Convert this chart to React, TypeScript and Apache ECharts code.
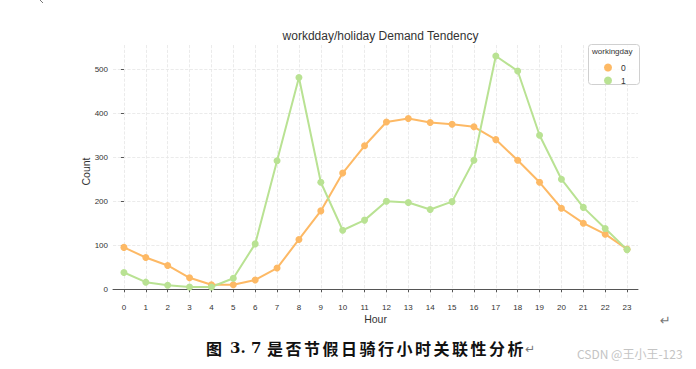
import React, { useEffect, useRef } from "react";
import * as echarts from "echarts";

const hours = [0,1,2,3,4,5,6,7,8,9,10,11,12,13,14,15,16,17,18,19,20,21,22,23];
const holidayCounts = [95,72,54,26,10,10,21,48,113,178,264,326,380,388,379,375,369,340,293,243,184,150,125,91];
const workdayCounts = [38,16,9,5,5,25,103,292,481,243,134,157,200,197,181,199,293,530,496,350,250,186,138,90];
const yTicks = [0,100,200,300,400,500];
const seriesNames = ["0", "1"];
const colors = ["#fdb965", "#b9e293"];
const captionHead = "图";
const captionNum = "3. 7";
const captionBody = "是否节假日骑行小时关联性分析";

const FONT = "'Liberation Sans', Arial, sans-serif";
const CJK = "'Noto Sans CJK SC', sans-serif";

export default function App() {
  const ref = useRef<HTMLDivElement>(null);
  useEffect(() => {
    if (!ref.current) return;
    const chart = echarts.init(ref.current, undefined, { renderer: "svg" });
    const mk = (vals: number[]) => hours.map((h, i) => [h, vals[i]]);
    const captionStyle = { fontSize: 16, fontWeight: "bold", fill: "#111", fontFamily: CJK };
    const step = 18.5;
    const bodyChars = Array.from(captionBody).map((ch, i) => ({
      type: "text",
      left: 267 + i * step,
      top: 340,
      style: { text: ch, ...captionStyle },
    }));
    chart.setOption({
      animation: false,
      backgroundColor: "#ffffff",
      textStyle: { fontFamily: FONT },
      title: {
        text: "workdday/holiday Demand Tendency",
        left: 375.5,
        textAlign: "center",
        top: 25,
        textStyle: { fontSize: 12, fontWeight: "normal", color: "#333", fontFamily: FONT },
      },
      grid: { left: 113, right: 58, top: 45, bottom: 71, containLabel: false },
      xAxis: {
        type: "value",
        min: -0.5,
        max: 23.5,
        name: "Hour",
        nameLocation: "middle",
        nameGap: 15,
        nameMoveOverlap: false,
        nameTextStyle: { fontSize: 10.5, color: "#333", fontFamily: FONT },
        axisLine: { show: true, lineStyle: { color: "#555", width: 1 } },
        axisTick: { show: true, length: 3, lineStyle: { color: "#555" }, customValues: hours },
        axisLabel: { fontSize: 8, color: "#333", margin: 5, customValues: hours, fontFamily: FONT },
        splitLine: { show: true, lineStyle: { color: "#e6e6e6", type: "dashed", width: 0.8 } },
      },
      yAxis: {
        type: "value",
        min: -20,
        max: 555,
        name: "Count",
        nameLocation: "middle",
        nameGap: 22,
        nameMoveOverlap: false,
        nameRotate: 90,
        nameTextStyle: { fontSize: 10.5, color: "#333", fontFamily: FONT },
        axisLine: { show: false },
        axisTick: { show: true, length: 3, lineStyle: { color: "#555" }, customValues: yTicks },
        axisLabel: { fontSize: 8, color: "#333", margin: 5, customValues: yTicks, fontFamily: FONT },
        splitLine: { show: true, lineStyle: { color: "#e6e6e6", type: "dashed", width: 0.8 } },
      },
      legend: {
        orient: "vertical",
        left: 599,
        top: 58,
        z: 10,
        itemWidth: 8,
        itemHeight: 8,
        itemGap: 4,
        icon: "circle",
        data: seriesNames,
        textStyle: { fontSize: 8.5, color: "#333", padding: [0, 0, 0, 4], fontFamily: FONT },
      },
      graphic: [
        {
          type: "rect",
          left: 588,
          top: 44,
          shape: { width: 51, height: 40, r: 3 },
          style: { fill: "rgba(255,255,255,0.85)", stroke: "#d0d0d0", lineWidth: 1 },
          z: 2,
        },
        {
          type: "text",
          left: 592,
          top: 47.5,
          style: { text: "workingday", fontSize: 8, fill: "#333", fontFamily: FONT },
          z: 6,
        },
        {
          type: "text",
          left: 206,
          top: 340,
          style: { text: captionHead, ...captionStyle },
        },
        {
          type: "text",
          left: 230,
          top: 340,
          style: { text: captionNum, ...captionStyle, fontFamily: "'DejaVu Serif', serif", fontSize: 15 },
        },
        ...bodyChars,
        {
          type: "text",
          left: 267 + captionBody.length * step - 1,
          top: 343,
          style: { text: "↵", fontSize: 12, fill: "#777", fontFamily: "'DejaVu Sans', sans-serif" },
        },
        {
          type: "text",
          left: 577,
          top: 347,
          style: { text: "CSDN @王小王-123", fontSize: 12, fill: "#c4c4c4", fontFamily: CJK },
        },
        {
          type: "text",
          left: 660,
          top: 314,
          style: { text: "↵", fontSize: 13, fill: "#777", fontFamily: "'DejaVu Sans', sans-serif" },
        },
        {
          type: "line",
          shape: { x1: 40, y1: 0, x2: 43, y2: 3 },
          style: { stroke: "#777", lineWidth: 1 },
        },
      ],
      series: seriesNames.map((name, i) => ({
        name,
        type: "line",
        data: mk(i === 0 ? holidayCounts : workdayCounts),
        symbol: "circle",
        symbolSize: 7,
        itemStyle: { color: colors[i] },
        lineStyle: { color: colors[i], width: 2 },
        z: 3,
      })),
    });
    return () => chart.dispose();
  }, []);
  return (
    <div
      ref={ref}
      style={{ position: "fixed", left: 0, top: 0, width: 696, height: 369 }}
    />
  );
}
